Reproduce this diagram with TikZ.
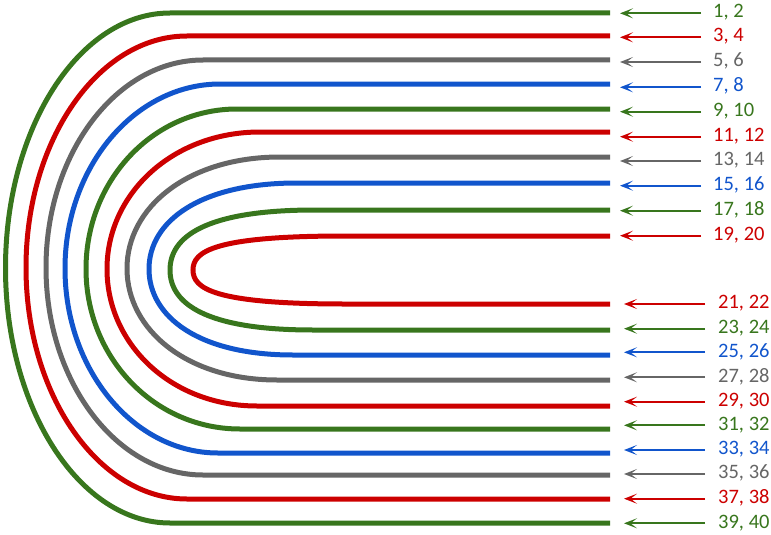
\documentclass[tikz,border=0pt]{standalone}
\usepackage{fontspec}
\setmainfont{Carlito}
\usetikzlibrary{arrows.meta}
\definecolor{cG}{HTML}{38761D}
\definecolor{cR}{HTML}{CC0000}
\definecolor{cY}{HTML}{666666}
\definecolor{cB}{HTML}{1155CC}
\tikzset{
  loopline/.style={line width=5pt},
  arr/.style={line width=1.7pt,-{Stealth[length=13pt,width=10pt,inset=6.5pt]}},
  lab/.style={inner sep=0pt,anchor=base west,font=\fontsize{20.5}{24}\selectfont}
}
\begin{document}
\begin{tikzpicture}[x=1pt,y=-1pt]
\useasboundingbox (0,0) rectangle (771,535);
% loops
\foreach \c/\yt/\yb/\xt/\xb/\xl/\a in {
  cG/13/523/170/170/5.5/0.55,
  cR/36/499/187/187/26/0.55,
  cY/60/475/203/203/46/0.55,
  cB/84/453/220/218/65/0.55,
  cG/109/429/237/240/86/0.56,
  cR/132/406/260/257/107/0.57,
  cY/157/380/280/277/127/0.60,
  cB/183/355/297/293/149/0.66,
  cG/210/330/315/313/170/0.76,
  cR/236/304/345/345/193/0.86}{
  \pgfmathsetmacro\ym{(\yt+\yb)/2}
  \pgfmathsetmacro\cy{0.55*(\yb-\yt)/2}
  \pgfmathsetmacro\pta{\xt-\a*(\xt-\xl)}
  \pgfmathsetmacro\ptb{\xb-\a*(\xb-\xl)}
  \draw[loopline,\c] (610,\yt) -- (\xt,\yt)
    .. controls (\pta,\yt) and (\xl,\ym-\cy) .. (\xl,\ym)
    .. controls (\xl,\ym+\cy) and (\ptb,\yb) .. (\xb,\yb) -- (610,\yb);
}
% arrows and labels
\foreach \j/\c/\ay/\tip/\tail/\lx in {
  1/cG/13.3/620/701/713, 2/cR/37.3/620/701/713, 3/cY/62/620/701/713,
  4/cB/87.3/620/701/713, 5/cG/111.7/620/701/713, 6/cR/136.7/620/701/713,
  7/cY/161/620/701/713, 8/cB/185.7/620/701/713, 9/cG/210.7/620/701/713,
  10/cR/235.7/620/701/713,
  11/cR/304/624/705/718, 12/cG/328.7/624/705/718, 13/cB/352.3/624/705/718,
  14/cY/377.3/624/705/718, 15/cR/401.7/624/705/718, 16/cG/425.3/624/705/718,
  17/cB/450/624/705/718, 18/cY/474/624/705/718, 19/cR/498.7/624/705/718,
  20/cG/523.3/624/705/718}{
  \pgfmathtruncatemacro\na{2*\j-1}
  \pgfmathtruncatemacro\nb{2*\j}
  \node[lab,text=\c] (L\j) at (\lx,\ay+4.7) {\na, \nb};
  \coordinate (T\j) at (\tail,\ay);
  \coordinate (H\j) at (\tip,\ay);
  \draw[arr,\c] (T\j) -- (H\j);
}
\end{tikzpicture}
\end{document}
